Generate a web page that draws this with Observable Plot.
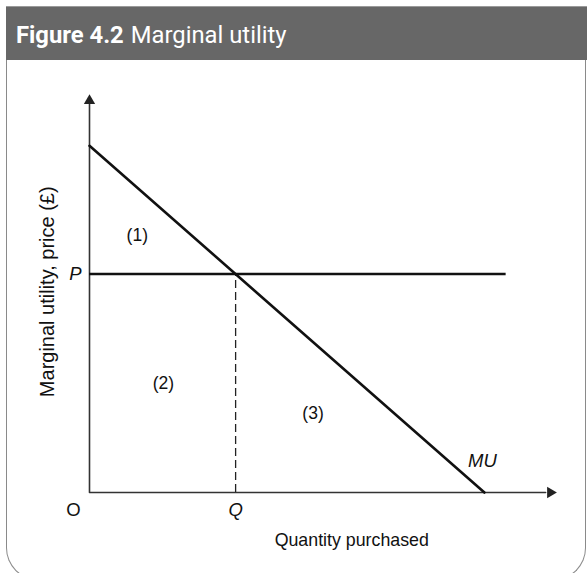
<!DOCTYPE html>
<html>
<head>
<meta charset="utf-8">
<script src="https://cdn.jsdelivr.net/npm/d3@7"></script>
<script src="https://cdn.jsdelivr.net/npm/@observablehq/plot@0.6"></script>
<style>
  html, body { margin: 0; padding: 0; background: #fff; }
  #wrap { position: relative; width: 587px; height: 573px; overflow: hidden; }
  #header { position: absolute; left: 6px; top: 6px; width: 581px; height: 54px; background: #676767;
            border-top: 1px solid #9a9a9a; box-sizing: border-box; }
  #title { position: absolute; left: 10px; top: 14px; color: #fff; font-family: Roboto, sans-serif; font-size: 23.8px; line-height: 28px; white-space: nowrap; }
  #title b { font-weight: 700; margin-right: 7px; }
  #frame { position: absolute; left: 6px; top: 60px; width: 580px; height: 520px; box-sizing: border-box;
           border: 1.5px solid #8a8a8a; border-top: none; border-radius: 0 0 32px 32px; pointer-events: none; }
  #chart { position: absolute; left: 0; top: 60px; }
</style>
</head>
<body>
<div id="wrap">
  <div id="header"><div id="title"><b>Figure 4.2</b>Marginal utility</div></div>
  <div id="chart"></div>
  <div id="frame"></div>
</div>
<script>
// Marginal utility curve (quantity, utility)
const muQuantity = [0, 10];
const muUtility = [10, 0];
// Price and the quantity purchased at that price
const priceP = 6.3;
const quantityQ = 3.7;
const priceLineEnd = 10.55;
// axis extents
const xAxisEnd = 11.8;
const yAxisEnd = 11.45;
// region labels and their data positions
const regionNames = ["(1)", "(2)", "(3)"];
const regionQ = [1.21, 1.87, 5.66];
const regionU = [7.41, 3.14, 2.28];
// text labels
const yTitle = "Marginal utility, price (£)";
const xTitle = "Quantity purchased";
const originLabel = "O";
const pLabel = "P";
const qLabel = "Q";
const curveLabel = "MU";

const muData = muQuantity.map((q, i) => ({q, u: muUtility[i]}));
const regions = regionNames.map((name, i) => ({name, q: regionQ[i], u: regionU[i]}));

const W = 587, H = 513;
const font = "'Liberation Sans', Arial, sans-serif";

const chart = Plot.plot({
  width: W,
  height: H,
  marginLeft: 89,
  marginRight: 32,
  marginTop: 35,
  marginBottom: 81,
  x: {domain: [0, xAxisEnd], axis: null},
  y: {domain: [0, yAxisEnd], axis: null},
  style: {fontFamily: font, fontSize: "18px", color: "#111", background: "transparent"},
  marks: [
    // axes
    Plot.line([{q: 0, u: yAxisEnd - 0.25}, {q: 0, u: 0}, {q: xAxisEnd - 0.25, u: 0}], {x: "q", y: "u", stroke: "#333", strokeWidth: 1.6}),
    Plot.dot([{q: 0, u: yAxisEnd - 0.15}], {x: "q", y: "u", symbol: "triangle", r: 4.2, fill: "#222", stroke: "none"}),
    Plot.dot([{q: xAxisEnd - 0.13, u: 0}], {x: "q", y: "u", symbol: "triangle", r: 4.2, fill: "#222", stroke: "none", rotate: 90}),
    // dashed drop line at Q
    Plot.ruleX([quantityQ], {y1: 0, y2: priceP, stroke: "#222", strokeWidth: 1.3, strokeDasharray: "8,4"}),
    // price line
    Plot.ruleY([priceP], {x1: 0, x2: priceLineEnd, stroke: "#111", strokeWidth: 2.6}),
    // MU curve
    Plot.line(muData, {x: "q", y: "u", stroke: "#111", strokeWidth: 2.6}),
    // region labels
    Plot.text(regions, {x: "q", y: "u", text: "name", fontSize: 17.5, fill: "#111"}),
    // point labels
    Plot.text([pLabel], {x: 0, y: priceP, dx: -14, fontSize: 18.5, fontStyle: "italic", fill: "#111"}),
    Plot.text([qLabel], {x: quantityQ, y: 0, dy: 18, fontSize: 18.5, fontStyle: "italic", fill: "#111"}),
    Plot.text([originLabel], {x: 0, y: 0, dx: -16, dy: 18, fontSize: 18.5, fill: "#111"}),
    Plot.text([curveLabel], {x: 9.95, y: 0.92, fontSize: 18.5, fontStyle: "italic", fill: "#111"}),
    // axis titles
    Plot.text([xTitle], {x: 6.64, y: -1.38, fontSize: 17.8, fill: "#111"}),
    Plot.text([yTitle], {x: -1.06, y: 5.79, rotate: -90, fontSize: 20, fill: "#111"})
  ]
});
document.getElementById("chart").appendChild(chart);
</script>
</body>
</html>
